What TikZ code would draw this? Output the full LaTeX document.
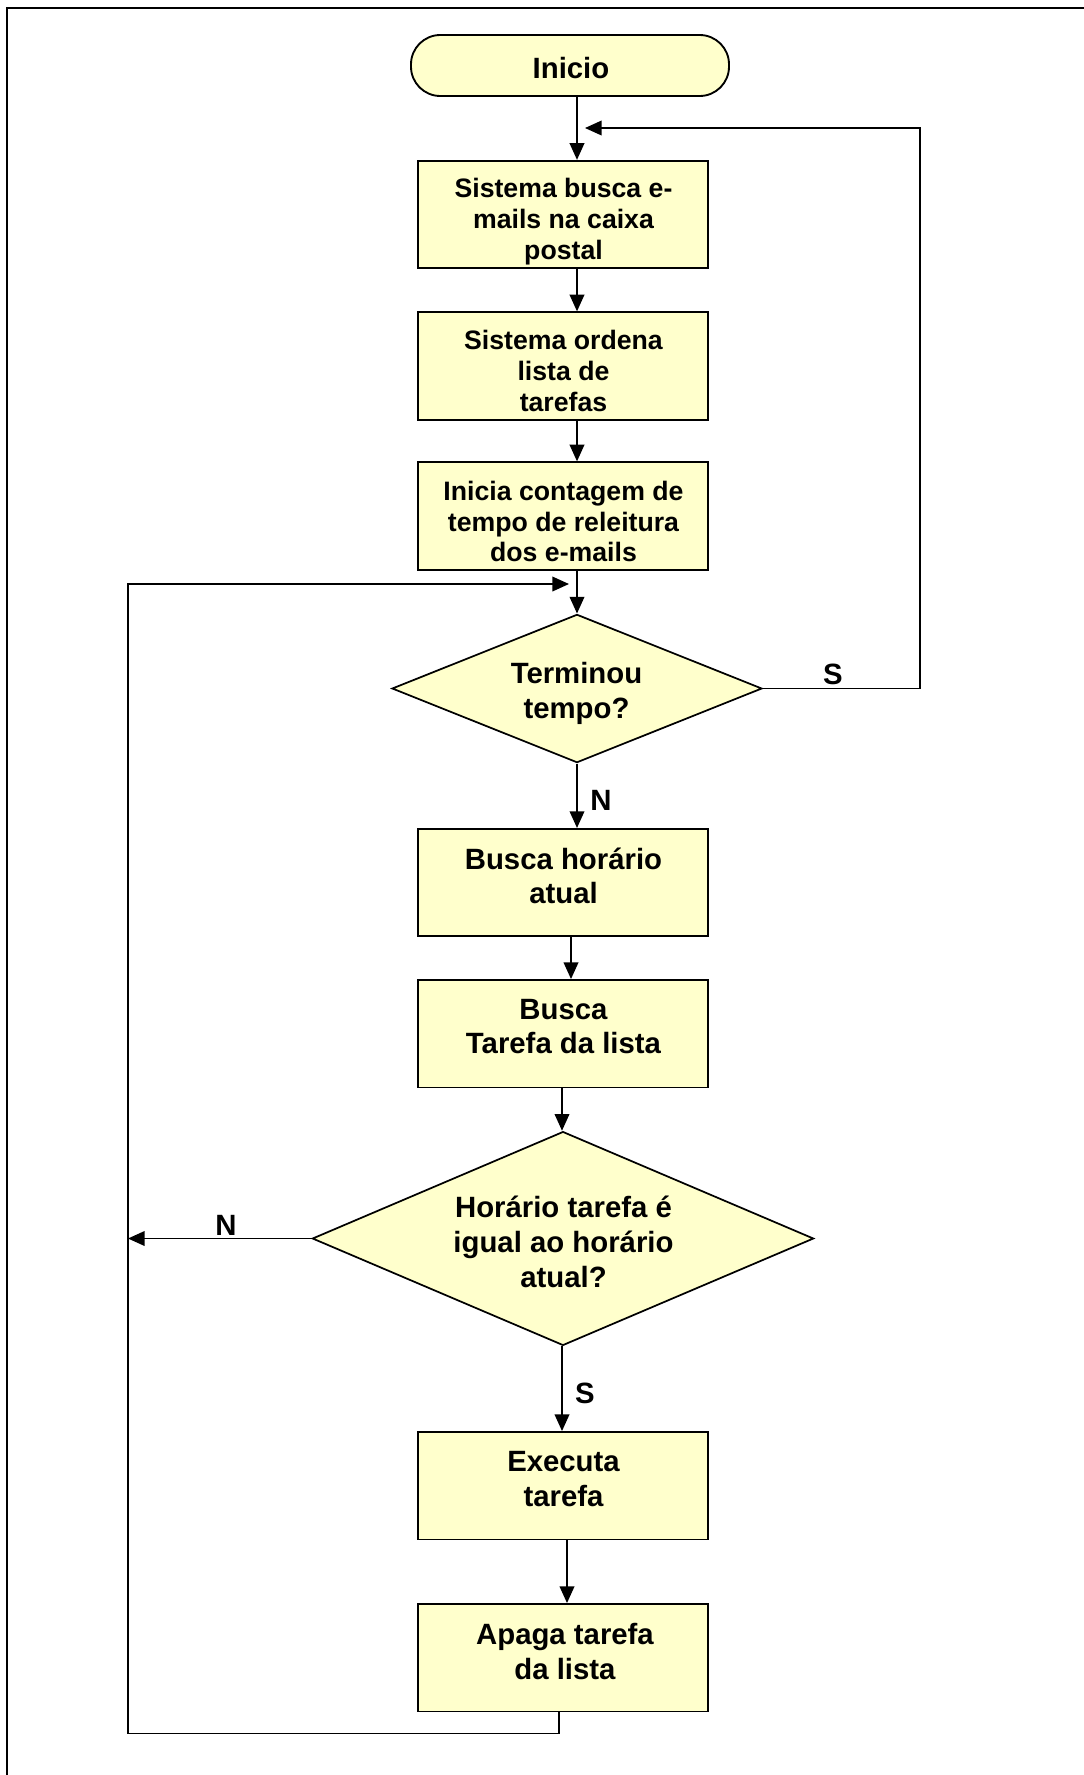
\documentclass[tikz,border=0pt]{standalone}
\usepackage{fontspec}
\setmainfont{Liberation Sans}
\usetikzlibrary{shapes.geometric,arrows.meta,calc}
\definecolor{boxfill}{HTML}{FFFFCC}
\begin{document}
\begin{tikzpicture}[x=0.75pt,y=-0.75pt,
  procbox/.style={draw, line width=1.4pt, fill=boxfill, minimum width=218pt, minimum height=80.6pt, inner sep=0pt},
  termbox/.style={draw, line width=1.4pt, fill=boxfill, rounded corners=22pt, minimum width=238.5pt, minimum height=45.75pt, inner sep=0pt},
  decbox/.style={draw, line width=1.3pt, fill=boxfill, shape=diamond, inner sep=0pt},
  txtS/.style={font=\bfseries\fontsize{20}{23}\selectfont, align=center, inner sep=0pt},
  txtL/.style={font=\bfseries\fontsize{22}{26}\selectfont, align=center, inner sep=0pt},
  lbl/.style={font=\bfseries\fontsize{22}{26}\selectfont, inner sep=0pt},
  arr/.style={line width=1.2pt, -{Triangle[length=12.5pt,width=11pt]}},
]
\useasboundingbox (0,0) rectangle (1084,1775);
\draw[line width=1.4pt] (7,1775) -- (7,8) -- (1084,8);

% nodes
\node[termbox] (ini) at (570,65.5) {};
\node[txtL] (tini) at (571,68) {Inicio};
\node[procbox] (b1) at (563,214.5) {};
\node[txtS] (t1) at (563.5,221.5) {Sistema busca e-\\mails na caixa\\postal};
\node[procbox] (b2) at (563,366) {};
\node[txtS] (t2) at (563.5,371) {Sistema ordena\\lista de\\tarefas};
\node[procbox] (b3) at (563,516) {};
\node[txtS] (t3) at (563.5,521.5) {Inicia contagem de\\tempo de releitura\\dos e-mails};
\node[decbox, minimum width=277.5pt, minimum height=111.2pt] (d1) at (577,688.5) {};
\node[txtL] (td1) at (576.5,693.5) {Terminou\\tempo?};
\node[procbox] (b4) at (563,882.6) {};
\node[txtL] (t4) at (563.5,876) {Busca horário\\atual};
\node[procbox] (b5) at (563,1033.7) {};
\node[txtL] (t5) at (563.5,1026.5) {Busca\\Tarefa da lista};
\node[decbox, minimum width=376pt, minimum height=160.4pt] (d2) at (563,1238.5) {};
\node[txtL] (td2) at (563.5,1242) {Horário tarefa é\\igual ao horário\\atual?};
\node[procbox] (b6) at (563,1485.7) {};
\node[txtL] (t6) at (563.5,1479) {Executa\\tarefa};
\node[procbox] (b7) at (563,1657.7) {};
\node[txtL] (t7) at (565,1651.5) {Apaga tarefa\\da lista};

% labels
\node[lbl] (lS1) at (833,674) {S};
\node[lbl] (lN1) at (601,800) {N};
\node[lbl] (lN2) at (226,1225) {N};
\node[lbl] (lS2) at (585,1393) {S};

% columns and free ends
\coordinate (c0) at (577,0);
\coordinate (c4) at (571,0);
\coordinate (c5) at (562,0);
\coordinate (c6) at (567,0);
\coordinate (c7) at (559,0);
\coordinate (rtTop) at (920,128);
\coordinate (rtTip) at (585,128);
\coordinate (lpL) at (128,1733.5);
\coordinate (lpT) at (569,584);
\coordinate (nL) at (128,1238.5);

% connectors
\draw[arr] (ini.south -| c0) -- (b1.north -| c0);
\draw[arr] (b1.south -| c0) -- (b2.north -| c0);
\draw[arr] (b2.south -| c0) -- (b3.north -| c0);
\draw[arr] (b3.south -| c0) -- (d1.north);
\draw[arr] (d1.south) -- (b4.north -| c0);
\draw[arr] (b4.south -| c4) -- (b5.north -| c4);
\draw[arr] (b5.south -| c5) -- (d2.north -| c5);
\draw[arr] (d2.south -| c5) -- (b6.north -| c5);
\draw[arr] (b6.south -| c6) -- (b7.north -| c6);
\draw[arr] (d1.east) -| (rtTop) -- (rtTip);
\draw[arr] (d2.west) -- (nL);
\draw[arr] (b7.south -| c7) |- (lpL) |- (lpT);
\end{tikzpicture}
\end{document}
